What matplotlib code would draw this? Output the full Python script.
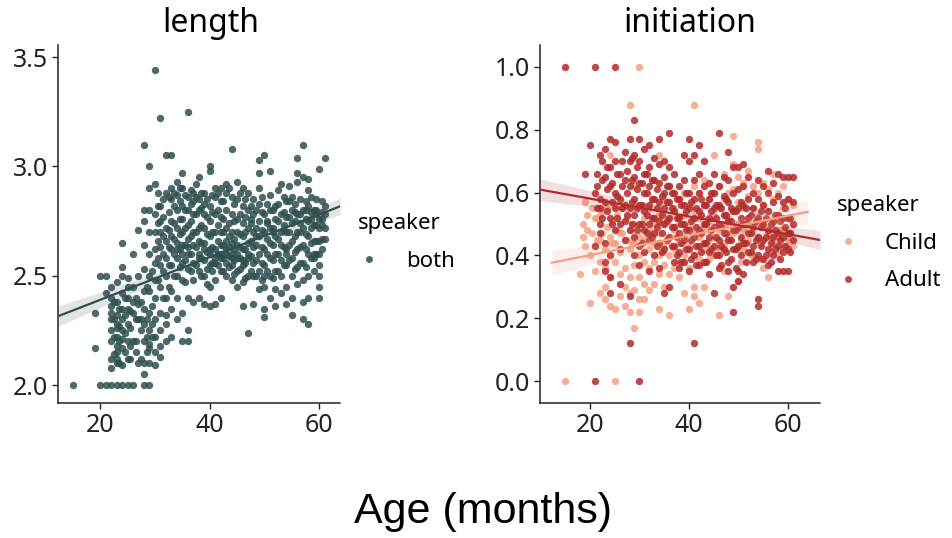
import matplotlib
matplotlib.use("Agg")
import matplotlib.pyplot as plt
from matplotlib.lines import Line2D
import numpy as np

plt.rcParams['font.family'] = ['Noto Sans', 'DejaVu Sans']

# Each series: a list of ages (months) and, for each age.

# ---- length panel (speaker = both) ----
len_ages = [15, 19, 20, 21, 22, 23, 24, 25, 26, 27, 28, 29, 30, 31, 32, 33, 34, 35, 36,
            37, 38, 39, 40, 41, 42, 43, 44, 45, 46, 47, 48, 49, 50, 51, 52, 53, 54, 55,
            56, 57, 58, 59, 60, 61]
len_vals = [
    [2.00],
    [2.33, 2.17],
    [2.50, 2.00],
    [2.50, 2.00, 2.42],
    [2.00, 2.12, 2.20, 2.25, 2.30, 2.33, 2.36, 2.40, 2.45, 2.08],
    [2.00, 2.10, 2.15, 2.22, 2.28, 2.32, 2.38, 2.47, 2.18, 2.12, 2.26],
    [2.00, 2.09, 2.17, 2.25, 2.30, 2.35, 2.42, 2.50, 2.65, 2.54, 2.21],
    [2.00, 2.12, 2.20, 2.28, 2.35, 2.45, 2.49, 2.40],
    [2.00, 2.20, 2.33, 2.38, 2.45, 2.60],
    [2.10, 2.30, 2.50, 2.71, 2.37],
    [2.00, 2.05, 2.10, 2.20, 2.28, 2.35, 2.53, 2.64, 2.75, 2.80, 3.10, 2.43],
    [2.00, 2.10, 2.17, 2.25, 2.33, 2.43, 2.50, 2.60, 2.70, 2.80, 2.90, 3.00, 2.19],
    [2.09, 2.15, 2.22, 2.30, 2.40, 2.48, 2.56, 2.62, 2.70, 2.78, 2.92, 3.44],
    [2.13, 2.25, 2.33, 2.45, 2.55, 2.63, 2.70, 2.75, 2.82, 3.22, 2.18],
    [2.20, 2.32, 2.40, 2.50, 2.58, 2.66, 2.72, 2.88, 3.05, 2.28],
    [2.22, 2.35, 2.43, 2.55, 2.62, 2.68, 2.75, 2.85, 2.90, 3.05],
    [2.30, 2.40, 2.50, 2.58, 2.65, 2.72, 2.80, 2.87, 2.93, 2.62],
    [2.20, 2.33, 2.48, 2.56, 2.64, 2.70, 2.76, 2.82, 2.90, 2.97, 2.60],
    [2.20, 2.25, 2.40, 2.53, 2.60, 2.67, 2.73, 2.80, 2.86, 3.25, 2.63],
    [2.38, 2.48, 2.56, 2.64, 2.70, 2.78, 2.84, 2.88],
    [2.40, 2.52, 2.60, 2.66, 2.72, 2.80, 2.95, 2.58, 2.85],
    [2.37, 2.50, 2.57, 2.65, 2.72, 2.78, 2.83, 2.88, 2.62],
    [2.36, 2.45, 2.55, 2.62, 2.68, 2.75, 2.82, 2.98, 3.00, 2.60],
    [2.37, 2.48, 2.56, 2.62, 2.70, 2.78, 2.86, 2.90, 2.58],
    [2.40, 2.52, 2.58, 2.64, 2.70, 2.77, 2.84, 2.90, 2.60],
    [2.50, 2.56, 2.60, 2.66, 2.72, 2.80, 2.88, 2.92, 2.62],
    [2.48, 2.55, 2.60, 2.65, 2.70, 2.78, 2.86, 3.08, 2.58],
    [2.45, 2.52, 2.58, 2.64, 2.70, 2.76, 2.85, 2.93, 2.60],
    [2.36, 2.47, 2.55, 2.62, 2.68, 2.74, 2.82, 2.90, 2.57],
    [2.24, 2.50, 2.58, 2.65, 2.72, 2.80, 2.88, 2.60],
    [2.37, 2.50, 2.56, 2.63, 2.70, 2.78, 2.85],
    [2.44, 2.52, 2.60, 2.68, 2.75, 2.83, 2.90, 2.97, 3.03],
    [2.31, 2.35, 2.45, 2.55, 2.62, 2.70, 2.78, 3.05, 2.50],
    [2.40, 2.50, 2.58, 2.65, 2.72, 2.80, 2.87, 2.98],
    [2.36, 2.44, 2.52, 2.60, 2.68, 2.76, 2.82],
    [2.42, 2.50, 2.57, 2.64, 2.70, 2.78, 2.92],
    [2.37, 2.45, 2.55, 2.62, 2.70, 2.77, 2.84, 2.60],
    [2.32, 2.40, 2.50, 2.58, 2.66, 2.74, 2.80, 2.86],
    [2.46, 2.54, 2.62, 2.70, 2.78, 2.93, 3.04, 2.97],
    [2.30, 2.38, 2.48, 2.56, 2.64, 2.72, 2.80, 2.95, 3.10],
    [2.28, 2.40, 2.50, 2.60, 2.68, 2.75, 2.82, 2.94, 2.89],
    [2.52, 2.60, 2.66, 2.73, 2.80, 2.58],
    [2.40, 2.45, 2.50, 2.55, 2.60, 2.66, 2.72, 2.76, 2.99],
    [2.67, 2.72, 2.78, 2.82, 3.04],
]
# points sitting between whole months
len_ages_half = [22.5, 23.5, 24.5, 25.5, 26.5, 27.5, 28.5, 29.5, 30.5, 31.5, 32.5, 33.5,
                 34.5, 35.5, 36.5, 37.5, 38.5, 39.5, 40.5, 41.5, 42.5, 43.5, 44.5, 45.5,
                 46.5, 47.5, 48.5, 49.5, 50.5, 51.5, 52.5, 53.5, 54.5, 55.5, 56.5, 57.5,
                 58.5, 59.5, 60.5]
len_vals_half = [
    [2.14, 2.22, 2.30, 2.38],
    [2.10, 2.20, 2.27, 2.35],
    [2.15, 2.24, 2.32, 2.40],
    [2.18, 2.26, 2.34, 2.12],
    [2.20, 2.30, 2.40, 2.15],
    [2.12, 2.25, 2.38, 2.30],
    [2.15, 2.30, 2.45, 2.22],
    [2.22, 2.36, 2.52, 2.28],
    [2.48, 2.58, 2.66, 2.74, 2.82, 2.88],
    [2.52, 2.60, 2.68, 2.77, 2.85, 2.40],
    [2.55, 2.63, 2.71, 2.79, 2.86, 2.45],
    [2.50, 2.60, 2.67, 2.74, 2.82, 2.88],
    [2.54, 2.62, 2.69, 2.76, 2.84, 2.90],
    [2.57, 2.64, 2.72, 2.80, 2.87, 2.47],
    [2.52, 2.60, 2.68, 2.75, 2.83, 2.89],
    [2.55, 2.63, 2.70, 2.78, 2.86, 2.92],
    [2.50, 2.58, 2.65, 2.73, 2.81, 2.88],
    [2.53, 2.61, 2.69, 2.77, 2.85, 2.46],
    [2.56, 2.63, 2.70, 2.79, 2.87, 2.52],
    [2.55, 2.60, 2.66, 2.73, 2.80, 2.88],
    [2.52, 2.58, 2.64, 2.70, 2.76, 2.84],
    [2.54, 2.59, 2.63, 2.68, 2.74, 2.90],
    [2.51, 2.57, 2.62, 2.67, 2.75, 2.83],
    [2.53, 2.58, 2.63, 2.69, 2.78, 2.88],
    [2.49, 2.56, 2.62, 2.70, 2.77, 2.85],
    [2.52, 2.59, 2.66, 2.74, 2.82, 2.76],
    [2.50, 2.57, 2.64, 2.72, 2.80, 2.68],
    [2.48, 2.56, 2.63, 2.71, 2.79, 2.86],
    [2.52, 2.60, 2.67, 2.75, 2.83, 2.74],
    [2.49, 2.57, 2.64, 2.72, 2.80, 2.70],
    [2.52, 2.60, 2.67, 2.75, 2.83, 2.89],
    [2.55, 2.63, 2.71, 2.79, 2.86, 2.73],
    [2.57, 2.64, 2.70, 2.77, 2.84, 2.91],
    [2.53, 2.61, 2.68, 2.75, 2.83, 2.79],
    [2.56, 2.63, 2.70, 2.78, 2.85, 2.74],
    [2.54, 2.62, 2.69, 2.76, 2.84, 2.80],
    [2.58, 2.65, 2.72, 2.79, 2.86, 2.76],
    [2.60, 2.66, 2.73, 2.80, 2.85, 2.78],
    [2.62, 2.67, 2.73, 2.79, 2.84, 2.76],
]

# ---- initiation panel: Child ----
child_ages = [15, 18, 19, 20, 21, 22, 23, 24, 25, 26, 27, 28, 29, 30, 31, 32, 33, 34, 35,
              36, 37, 38, 39, 40, 41, 42, 43, 44, 45, 46, 47, 48, 49, 50, 51, 52, 53, 54,
              55, 56, 57, 58, 59, 60, 61]
child_vals = [
    [0.00], [0.34], [0.57, 0.43], [0.25, 0.40], [0.43, 0.35, 0.52],
    [0.45, 0.38, 0.28, 0.53], [0.42, 0.36, 0.26, 0.30], [0.46, 0.40, 0.33, 0.24, 0.72],
    [0.00, 0.44, 0.38, 0.23, 0.56], [0.47, 0.41, 0.34, 0.27], [0.45, 0.36, 0.30, 0.24],
    [0.88, 0.48, 0.42, 0.33, 0.28, 0.22], [0.50, 0.44, 0.37, 0.29, 0.17, 0.62],
    [1.00, 0.46, 0.40, 0.33, 0.26, 0.22], [0.52, 0.45, 0.38, 0.31, 0.26],
    [0.55, 0.48, 0.42, 0.36, 0.29], [0.50, 0.44, 0.38, 0.31],
    [0.72, 0.53, 0.47, 0.40, 0.34, 0.23], [0.58, 0.50, 0.43, 0.37, 0.30],
    [0.62, 0.52, 0.46, 0.40, 0.34, 0.21], [0.55, 0.48, 0.42, 0.36],
    [0.58, 0.50, 0.44, 0.38, 0.33], [0.60, 0.53, 0.46, 0.40, 0.28],
    [0.56, 0.49, 0.43, 0.36, 0.23], [0.88, 0.62, 0.54, 0.47, 0.40, 0.30, 0.27],
    [0.60, 0.52, 0.46, 0.39, 0.25], [0.64, 0.56, 0.49, 0.42, 0.30],
    [0.58, 0.51, 0.45, 0.39], [0.72, 0.60, 0.53, 0.46, 0.40],
    [0.62, 0.55, 0.48, 0.42, 0.21], [0.66, 0.58, 0.50, 0.44, 0.35],
    [0.60, 0.52, 0.46, 0.27], [0.78, 0.69, 0.61, 0.54, 0.47],
    [0.65, 0.57, 0.50, 0.43, 0.32], [0.63, 0.55, 0.48, 0.42],
    [0.67, 0.59, 0.52, 0.45], [0.62, 0.55, 0.49, 0.40],
    [0.76, 0.74, 0.60, 0.53, 0.46], [0.63, 0.56, 0.50, 0.36],
    [0.61, 0.54, 0.47, 0.33], [0.66, 0.58, 0.51, 0.44],
    [0.60, 0.53, 0.46, 0.40], [0.62, 0.55, 0.48, 0.43],
    [0.58, 0.52, 0.45], [0.56, 0.50, 0.43],
]
child_ages_half = [18.5, 19.5, 20.5, 21.5, 22.5, 23.5, 24.5, 25.5, 26.5, 27.5, 28.5,
                   50.5, 52.5, 54.5, 56.5, 58.5, 60.5]
child_vals_half = [
    [0.50, 0.46], [0.53, 0.48], [0.55, 0.47], [0.52, 0.45], [0.54, 0.47], [0.55, 0.49],
    [0.51, 0.44], [0.53, 0.48], [0.55, 0.47], [0.52, 0.45], [0.50, 0.44],
    [0.45, 0.38], [0.47, 0.40], [0.44, 0.39], [0.46, 0.41], [0.48, 0.42], [0.47, 0.44],
]

# ---- initiation panel: Adult ----
adult_ages = [15, 19, 20, 21, 22, 23, 24, 25, 26, 27, 28, 29, 30, 31, 32, 33, 34, 35, 36,
              37, 38, 39, 40, 41, 42, 43, 44, 45, 46, 47, 48, 49, 50, 51, 52, 53, 54, 55,
              56, 57, 58, 59, 60, 61]
adult_vals = [
    [1.00], [0.66], [0.75], [1.00, 0.00, 0.60, 0.43],
    [0.72, 0.55, 0.50, 0.47, 0.58], [0.74, 0.65, 0.57, 0.44, 0.38, 0.35],
    [0.77, 0.68, 0.62, 0.52, 0.40, 0.33, 0.28], [1.00, 0.76, 0.70, 0.60, 0.55, 0.48],
    [0.66, 0.58, 0.50, 0.42, 0.31], [0.73, 0.64, 0.56, 0.51, 0.45],
    [0.77, 0.70, 0.62, 0.55, 0.48, 0.27, 0.12], [0.83, 0.72, 0.65, 0.58, 0.53, 0.46, 0.40],
    [0.00, 0.77, 0.70, 0.63, 0.56, 0.50, 0.43, 0.37], [0.74, 0.66, 0.60, 0.54, 0.48, 0.41],
    [0.75, 0.68, 0.62, 0.56, 0.50, 0.45, 0.35], [0.71, 0.64, 0.58, 0.52, 0.47, 0.40],
    [0.77, 0.69, 0.63, 0.57, 0.51, 0.44, 0.36], [0.70, 0.65, 0.60, 0.55, 0.50, 0.42, 0.28],
    [0.79, 0.68, 0.62, 0.57, 0.52, 0.46, 0.30], [0.66, 0.60, 0.54, 0.49, 0.43, 0.38],
    [0.62, 0.58, 0.52, 0.47, 0.41, 0.36], [0.72, 0.64, 0.56, 0.50, 0.45, 0.38],
    [0.77, 0.70, 0.60, 0.55, 0.48, 0.42, 0.35], [0.72, 0.64, 0.58, 0.52, 0.46, 0.40, 0.12],
    [0.75, 0.66, 0.60, 0.54, 0.48, 0.43, 0.37], [0.70, 0.62, 0.56, 0.50, 0.44, 0.38],
    [0.63, 0.58, 0.52, 0.46, 0.41, 0.34], [0.66, 0.60, 0.55, 0.49, 0.43, 0.28],
    [0.79, 0.62, 0.56, 0.50, 0.45, 0.40, 0.36], [0.65, 0.59, 0.53, 0.47, 0.42],
    [0.73, 0.64, 0.57, 0.51, 0.45, 0.38, 0.35], [0.68, 0.60, 0.54, 0.48, 0.42, 0.30, 0.22],
    [0.68, 0.61, 0.55, 0.49, 0.43, 0.35, 0.32], [0.69, 0.62, 0.56, 0.50, 0.44, 0.34],
    [0.65, 0.58, 0.52, 0.47, 0.41], [0.60, 0.55, 0.49, 0.43, 0.38],
    [0.64, 0.58, 0.52, 0.46, 0.40, 0.26, 0.24], [0.62, 0.56, 0.50, 0.45, 0.39],
    [0.67, 0.60, 0.54, 0.48, 0.42, 0.37], [0.63, 0.57, 0.51, 0.46, 0.40],
    [0.66, 0.59, 0.53, 0.47, 0.43, 0.35], [0.65, 0.57, 0.52, 0.46, 0.41, 0.35],
    [0.65, 0.58, 0.52, 0.47, 0.42, 0.35], [0.65, 0.57, 0.50, 0.45],
]
adult_ages_half = [21.5, 22.5, 23.5, 24.5, 25.5, 26.5, 27.5, 28.5, 29.5, 30.5, 31.5, 32.5,
                   33.5, 34.5, 35.5, 36.5, 37.5, 38.5, 39.5, 40.5, 41.5, 42.5, 43.5, 44.5,
                   45.5, 46.5, 47.5, 48.5, 49.5, 50.5, 51.5, 52.5, 53.5, 54.5, 55.5, 56.5,
                   57.5, 58.5, 59.5, 60.5]
adult_vals_half = [
    [0.62, 0.55, 0.66], [0.64, 0.52, 0.70], [0.61, 0.54, 0.68], [0.63, 0.57, 0.50],
    [0.66, 0.59, 0.52], [0.62, 0.55, 0.70], [0.60, 0.53, 0.67], [0.64, 0.57, 0.50, 0.71],
    [0.61, 0.55, 0.48, 0.68], [0.63, 0.56, 0.50, 0.44], [0.60, 0.53, 0.47, 0.66],
    [0.58, 0.52, 0.46, 0.64], [0.61, 0.55, 0.49, 0.43], [0.59, 0.53, 0.47, 0.41],
    [0.57, 0.51, 0.45, 0.62], [0.55, 0.49, 0.43, 0.60], [0.58, 0.52, 0.46, 0.40],
    [0.56, 0.50, 0.44, 0.38], [0.54, 0.48, 0.42, 0.60], [0.57, 0.51, 0.45, 0.39],
    [0.55, 0.49, 0.43, 0.37], [0.53, 0.47, 0.41, 0.58], [0.56, 0.50, 0.44, 0.38],
    [0.54, 0.48, 0.42, 0.60], [0.52, 0.46, 0.40, 0.56], [0.55, 0.49, 0.43, 0.37],
    [0.53, 0.47, 0.41, 0.58], [0.51, 0.45, 0.39, 0.55], [0.54, 0.48, 0.42, 0.36],
    [0.52, 0.46, 0.40, 0.57], [0.50, 0.44, 0.38, 0.55], [0.53, 0.47, 0.41],
    [0.51, 0.45, 0.39], [0.49, 0.43, 0.54], [0.52, 0.46, 0.40], [0.50, 0.44, 0.38],
    [0.48, 0.42, 0.53], [0.51, 0.45, 0.39], [0.49, 0.43, 0.55], [0.47, 0.41, 0.52],
]

col_both = '#2f4f4f'
col_child = '#f5a081'
col_adult = '#b22a2a'


def flatten(ages, vals):
    x = [a for a, vs in zip(ages, vals) for _ in vs]
    y = [v for vs in vals for v in vs]
    return x, y


def series(ages, vals, ages_half, vals_half):
    x1, y1 = flatten(ages, vals)
    x2, y2 = flatten(ages_half, vals_half)
    return np.array(x1 + x2, float), np.array(y1 + y2, float)


def reg_line(ax, x, y, color, x0, x1):
    """Least-squares fit with a 95% confidence band, drawn from x0 to x1."""
    b, a = np.polyfit(x, y, 1)
    grid = np.linspace(x0, x1, 100)
    fit = a + b * grid
    resid = y - (a + b * x)
    s = np.sqrt(np.sum(resid ** 2) / (len(x) - 2))
    se = s * np.sqrt(1 / len(x) + (grid - x.mean()) ** 2 / np.sum((x - x.mean()) ** 2))
    ax.fill_between(grid, fit - 1.97 * se, fit + 1.97 * se, color=color, alpha=0.15, lw=0)
    ax.plot(grid, fit, color=color, lw=1.6, zorder=3)


def style(ax):
    for side in ['top', 'right']:
        ax.spines[side].set_visible(False)
    for side in ['left', 'bottom']:
        ax.spines[side].set_linewidth(1.1)
        ax.spines[side].set_color('#222222')
    ax.tick_params(labelsize=18, length=4, width=1, colors='#222222', pad=3)


len_x, len_y = series(len_ages, len_vals, len_ages_half, len_vals_half)
child_x, child_y = series(child_ages, child_vals, child_ages_half, child_vals_half)
adult_x, adult_y = series(adult_ages, adult_vals, adult_ages_half, adult_vals_half)

fig = plt.figure(figsize=(9.53, 5.38), dpi=100)
ax1 = fig.add_axes([58 / 953, 1 - 403 / 538, 282 / 953, 358 / 538])
ax2 = fig.add_axes([540 / 953, 1 - 403 / 538, 280 / 953, 358 / 538])

# length
ax1.scatter(len_x, len_y, s=28, color=col_both, alpha=0.85, lw=0, zorder=1)
ax1.set_xlim(12.3, 63.8)
ax1.set_ylim(1.918, 3.555)
reg_line(ax1, len_x, len_y, col_both, 12.3, 63.8)
ax1.set_xticks([20, 40, 60])
ax1.set_yticks([2.0, 2.5, 3.0, 3.5])
style(ax1)

# initiation
ax2.scatter(child_x, child_y, s=28, color=col_child, alpha=0.85, lw=0, zorder=1)
ax2.scatter(adult_x, adult_y, s=28, color=col_adult, alpha=0.85, lw=0, zorder=1)
ax2.set_xlim(9.9, 66.5)
ax2.set_ylim(-0.07, 1.07)
reg_line(ax2, child_x, child_y, col_child, 12.3, 64.0)
reg_line(ax2, adult_x, adult_y, col_adult, 9.9, 66.5)
ax2.set_xticks([20, 40, 60])
ax2.set_yticks([0.0, 0.2, 0.4, 0.6, 0.8, 1.0])
style(ax2)

fig.text(211 / 953, 1 - 24 / 538, 'length', fontsize=23, ha='center', va='center')
fig.text(690 / 953, 1 - 24 / 538, 'initiation', fontsize=23, ha='center', va='center')
fig.text(483 / 953, 1 - 512 / 538, 'Age (months)', fontsize=31,
         family='Liberation Sans', ha='center', va='center')


def dot(c):
    return Line2D([], [], marker='o', ls='none', color=c, alpha=0.85, markersize=5,
                  markeredgewidth=0)


leg_kw = dict(frameon=False, fontsize=16, title_fontsize=16, handlelength=1.0,
              handletextpad=1.15, labelspacing=0.75, alignment='left', borderpad=0,
              loc='upper left')
fig.legend([dot(col_both)], ['both'], title='speaker',
           bbox_to_anchor=(347 / 953, 1 - 202 / 538), **leg_kw)
fig.legend([dot(col_child), dot(col_adult)], ['Child', 'Adult'], title='speaker',
           bbox_to_anchor=(826 / 953, 1 - 184 / 538), **leg_kw)

fig.savefig('out.png', dpi=100)
